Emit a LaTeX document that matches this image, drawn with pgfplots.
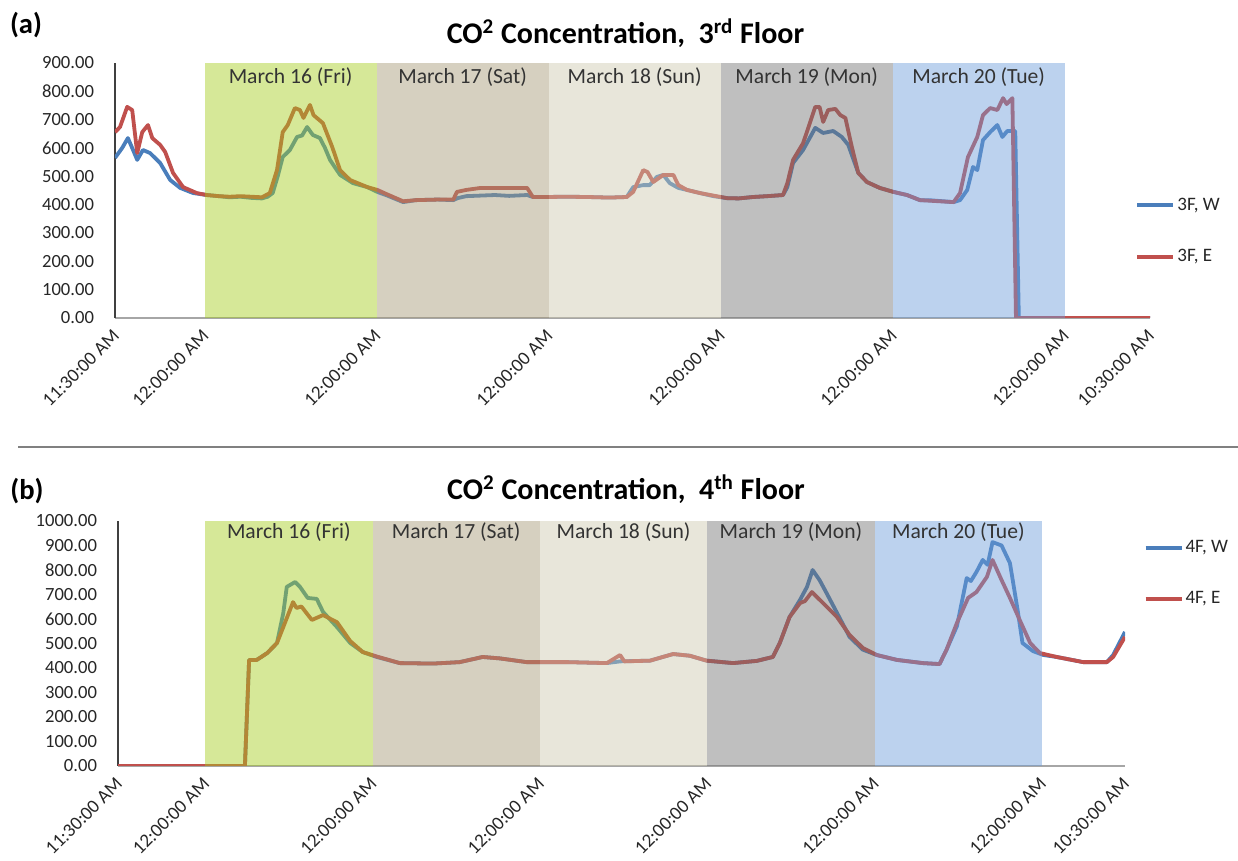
\documentclass[border=0pt]{standalone}
\usepackage{fontspec}
\setmainfont{Carlito}
\usepackage{pgfplots}
\usepackage{pgfplotstable}
\pgfplotsset{compat=1.18}
\definecolor{lblue}{RGB}{74,126,187}
\definecolor{lred}{RGB}{192,80,77}
\definecolor{bgreen}{RGB}{164,204,26}
\definecolor{btan}{RGB}{164,151,115}
\definecolor{bbeige}{RGB}{204,200,173}
\definecolor{bgray}{RGB}{113,113,113}
\definecolor{bblue}{RGB}{106,155,217}

\pgfplotstableread{
h ppm
0 565
1.0 600
1.8 635
2.4 600
3.1 558
3.9 593
4.9 582
6.3 547
7.7 487
9.1 459
10.9 441
12.8 434
14.5 430
16 426
17.5 428
19 424
20.5 422
21.3 428
22 441
22.7 500
23.4 568
24.4 593
25.4 639
26.1 644
26.8 674
27.6 646
28.6 635
29.3 600
30 558
31.4 505
33.2 476
35.2 462
36.6 445
38 432
40.2 409
42 416
45 418
47.2 416
47.8 423
49 430
51 432
53 434
55 431
57.5 434
58.3 427
60 427
63 428
66 427
69 425
71.4 427
72.3 462
73.7 469
74.6 469
75.6 498
76.5 505
77.4 476
78.6 459
79.8 452
81.6 441
83.5 430
85.4 423
87 422
89 427
91 430
93.2 434
93.8 462
94.6 547
96 593
97.7 671
98.8 653
100.2 660
101.4 639
102.3 611
103.7 512
104.9 480
106.7 459
108.6 445
110.5 434
112.3 416
114 415
117 409
117.9 416
118.9 452
119.7 533
120.3 522
121.1 628
122.1 656
123.1 681
123.8 639
124.5 660
125.6 660
126.1 0
144.4 0
}\tWthree

\pgfplotstableread{
h ppm
0 656
0.7 674
1.7 745
2.4 734
3.1 582
3.8 656
4.6 681
5.2 635
6.3 611
7 586
8.1 512
9.5 462
11.4 441
12.8 434
14.5 430
16 428
17.5 430
19 428
20.5 426
21.6 441
22.6 522
23.4 656
24.1 681
25.1 741
25.8 734
26.3 706
27.2 752
27.7 716
29 688
30.3 604
31.4 522
32.8 487
35.2 462
36.6 452
38 436
40.2 412
42 416
45 418
47.2 418
47.7 445
49 452
51 459
53 459
55 459
57.5 459
58.3 427
60 427
63 428
66 427
69 425
71.4 427
72.3 445
73.7 522
74.3 515
75.1 480
76.5 505
77.9 505
78.6 469
79.8 452
81.6 441
85.4 423
87 422
89 427
91 430
93.2 434
93.8 476
94.6 558
96 617
97.7 745
98.3 745
98.8 692
99.5 734
100.5 738
101.2 716
101.9 706
102.8 604
103.7 512
104.9 480
106.7 459
108.6 445
110.5 434
112.3 416
117 409
117.9 441
119 568
120.3 639
121.1 716
122.1 741
123.1 734
123.9 776
124.4 755
125.2 776
125.7 0
144.4 0
}\tEthree

\pgfplotstableread{
h ppm
0 0
18.2 0
18.8 433
19.9 433
21.4 461
22.8 502
23.7 624
24.2 731
25.4 751
26.1 731
27.2 686
28.5 682
29.4 629
31.4 567
33.3 502
35.1 465
37.1 445
40.4 420
45.2 418
49 424
52.3 445
54.8 439
58.6 424
64.4 424
70.1 420
72 427
76.3 430
79.6 457
82 450
84.4 430
88.2 420
91.6 429
93.9 445
94.9 502
96.3 608
97.8 678
98.8 731
99.6 800
100.6 759
101.6 706
103.1 625
104.9 527
106.8 475
108.8 453
111.7 433
115.4 420
117.8 416
118.8 474
120.3 571
121.7 767
122.3 755
123.1 792
124 841
124.7 821
125.4 914
126.7 900
127.9 828
129 637
129.7 502
131.2 469
132.7 453
134.6 445
138.4 424
141.8 424
142.7 453
144.4 547
}\tWfour

\pgfplotstableread{
h ppm
0 0
18.2 0
18.8 433
19.9 433
21.4 461
22.8 502
23.7 567
25.1 669
25.6 645
26.3 651
27.8 596
29.4 616
31.4 587
33.3 510
35.1 465
37.1 447
40.4 420
45.2 418
49 424
52.3 445
54.8 439
58.6 424
64.4 424
70.1 420
72 453
72.6 427
76.3 430
79.6 457
82 450
84.4 430
88.2 420
91.6 429
93.9 445
94.9 502
96.3 608
97.8 665
98.5 673
99.5 710
101.1 665
103.1 608
104.9 535
106.8 482
108.8 453
111.7 433
115.4 420
117.8 416
118.8 474
120.3 584
121.9 686
123.1 710
124.6 772
125.4 841
126.7 759
127.9 686
129.3 596
130.8 502
132.2 461
134.6 445
138.4 424
141.8 424
142.7 445
144.4 527
}\tEfour

\pgfplotsset{co2/.style={
  scale only axis, anchor=south west,
  xmin=0, xmax=144.4, ymin=0,
  axis x line=bottom, axis y line=left,
  x axis line style={-, draw=black!35, line width=0.9pt},
  y axis line style={-, draw=black!75, line width=0.9pt},
  major tick length=0pt,
  xtick={0,12.5,36.5,60.5,84.5,108.5,132.5,144.4},
  xticklabels={11:30:00 AM,12:00:00 AM,12:00:00 AM,12:00:00 AM,12:00:00 AM,12:00:00 AM,12:00:00 AM,10:30:00 AM},
  xticklabel style={xshift=3pt, yshift=-5pt, rotate=45, anchor=east, font=\fontsize{9.5}{11}\selectfont, text=black!85},
  yticklabel style={xshift=-7pt, font=\fontsize{9.3}{11}\selectfont, text=black!85},
  /pgf/number format/assume math mode=true,
  yticklabel={\pgfmathprintnumber[fixed,fixed zerofill,precision=2,1000 sep={}]{\tick}},
  legend style={draw=none, fill=none, font=\fontsize{9.5}{11}\selectfont, row sep=16pt, inner sep=0pt, nodes={inner sep=1pt, text=black!85}},
  legend cell align=left,
  legend image code/.code={\draw[#1, line width=2pt] (0pt,0pt) -- (18pt,0pt);},
  every axis plot/.append style={line width=1.9pt, line join=round},
}}

\newcommand{\bands}[1]{%
  \addplot[draw=none, fill=bgreen, fill opacity=0.45, forget plot] coordinates {(12.5,#1) (36.5,#1)} \closedcycle;
  \addplot[draw=none, fill=btan, fill opacity=0.45, forget plot] coordinates {(36.5,#1) (60.5,#1)} \closedcycle;
  \addplot[draw=none, fill=bbeige, fill opacity=0.45, forget plot] coordinates {(60.5,#1) (84.5,#1)} \closedcycle;
  \addplot[draw=none, fill=bgray, fill opacity=0.45, forget plot] coordinates {(84.5,#1) (108.5,#1)} \closedcycle;
  \addplot[draw=none, fill=bblue, fill opacity=0.45, forget plot] coordinates {(108.5,#1) (132.5,#1)} \closedcycle;
}
\newcommand{\daylabels}[1]{%
  \node[font=\fontsize{10.8}{13}\selectfont, text=black!80] at (axis cs:24.5,#1) {March 16 (Fri)};
  \node[font=\fontsize{10.8}{13}\selectfont, text=black!80] at (axis cs:48.5,#1) {March 17 (Sat)};
  \node[font=\fontsize{10.8}{13}\selectfont, text=black!80] at (axis cs:72.5,#1) {March 18 (Sun)};
  \node[font=\fontsize{10.8}{13}\selectfont, text=black!80] at (axis cs:96.5,#1) {March 19 (Mon)};
  \node[font=\fontsize{10.8}{13}\selectfont, text=black!80] at (axis cs:120.5,#1) {March 20 (Tue)};
}

\begin{document}
\begin{tikzpicture}
\path[use as bounding box] (0,0) rectangle (619pt,430.5pt);

\node[font=\bfseries\fontsize{14.3}{16}\selectfont] at (13pt,418pt) {(a)};
\node[font=\bfseries\fontsize{15}{17}\selectfont] at (312.75pt,414pt) {CO\textsuperscript{2} Concentration,\ \ 3\textsuperscript{rd} Floor};
\draw[black!50, line width=0.7pt] (9pt,207pt) -- (619pt,207pt);
\node[font=\bfseries\fontsize{14.3}{16}\selectfont] at (13.5pt,185pt) {(b)};
\node[font=\bfseries\fontsize{15}{17}\selectfont] at (313pt,186pt) {CO\textsuperscript{2} Concentration,\ \ 4\textsuperscript{th} Floor};

\begin{axis}[co2, at={(57.5pt,271.5pt)}, width=517.5pt, height=127.5pt,
  ymax=900, ytick={0,100,...,900},
  legend style={at={(rel axis cs:0.9855,0.341)}, anchor=west}]
  \addplot[lblue] table[x=h,y=ppm] {\tWthree};
  \addlegendentry{3F, W}
  \addplot[lred] table[x=h,y=ppm] {\tEthree};
  \addlegendentry{3F, E}
  \bands{900}
  \daylabels{850}
  \node[rotate=90, font=\bfseries\fontsize{9.4}{11}\selectfont, text=black!90] at (axis description cs:-0.084,0.5) {Concentration [ppm]};
\end{axis}

\begin{axis}[co2, at={(59pt,47.5pt)}, width=503.5pt, height=122.5pt,
  ymax=1000, ytick={0,100,...,1000},
  legend style={at={(rel axis cs:1.018,0.786)}, anchor=west}]
  \addplot[lblue] table[x=h,y=ppm] {\tWfour};
  \addlegendentry{4F, W}
  \addplot[lred] table[x=h,y=ppm] {\tEfour};
  \addlegendentry{4F, E}
  \bands{1000}
  \daylabels{955}
  \node[rotate=90, font=\bfseries\fontsize{9.4}{11}\selectfont, text=black!90] at (axis description cs:-0.092,0.5) {Concentration [ppm]};
\end{axis}
\end{tikzpicture}
\end{document}
